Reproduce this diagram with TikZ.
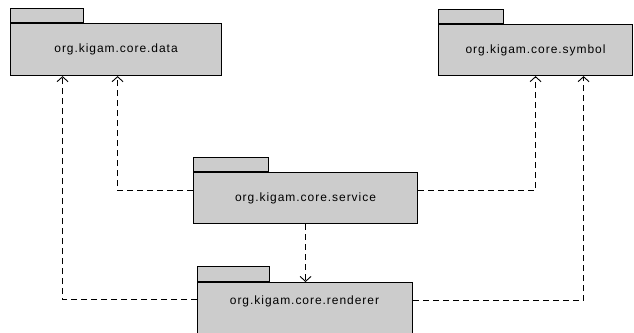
\documentclass[tikz,border=0pt]{standalone}
\usepackage{fontspec}
\setmainfont{Liberation Sans}
\usetikzlibrary{arrows.meta}
\begin{document}
\begin{tikzpicture}[x=1pt,y=-1pt,
  pkgfont/.style={font=\fontsize{12}{14}\selectfont\addfontfeature{LetterSpace=8}},
  pkgbody/.style={draw=black,line width=1.1pt,fill=black!20,anchor=north west,inner sep=0pt,pkgfont},
  pkgtab/.style={draw=black,line width=1.1pt,fill=black!20,anchor=south west,inner sep=0pt},
  dep/.style={draw=black,line width=0.9pt,dash pattern=on 6pt off 4pt,-{Straight Barb[length=5pt,width=11pt]}}]
\useasboundingbox (0,0) rectangle (634,332);
\begin{scope}
\clip (0,0) rectangle (634,332);
% data
\node[pkgtab,minimum width=73pt,minimum height=14pt] (datatab) at (10,23) {};
\node[pkgbody,minimum width=211pt,minimum height=52pt] (data) at (10,23) {org.kigam.core.data};
% symbol
\node[pkgtab,minimum width=65pt,minimum height=14pt] (symtab) at (438,24) {};
\node[pkgbody,minimum width=194pt,minimum height=51pt] (symbol) at (438,24) {org.kigam.core.symbol};
% service
\node[pkgtab,minimum width=75pt,minimum height=14pt] (servtab) at (193,172) {};
\node[pkgbody,minimum width=224pt,minimum height=51pt] (service) at (193,172) {org.kigam.core.service};
% renderer
\node[pkgtab,minimum width=72pt,minimum height=15pt] (rendtab) at (197,282) {};
\node[pkgbody,minimum width=215pt,minimum height=60pt] (renderer) at (197,282) {};
\node[pkgfont] (rendlabel) at (304.5,301) {org.kigam.core.renderer};
\end{scope}
% connectors
\draw[dep] ([yshift=7.5pt]service.west) -| ([xshift=1.5pt]data.south);
\draw[dep] ([yshift=13pt]renderer.west) -| ([xshift=-53.5pt]data.south);
\draw[dep] ([yshift=7.5pt]service.east) -| (symbol.south);
\draw[dep] ([yshift=12pt]renderer.east) -| ([xshift=48pt]symbol.south);
\draw[dep] (service.south) -- (renderer.north -| service.south);
\end{tikzpicture}
\end{document}
